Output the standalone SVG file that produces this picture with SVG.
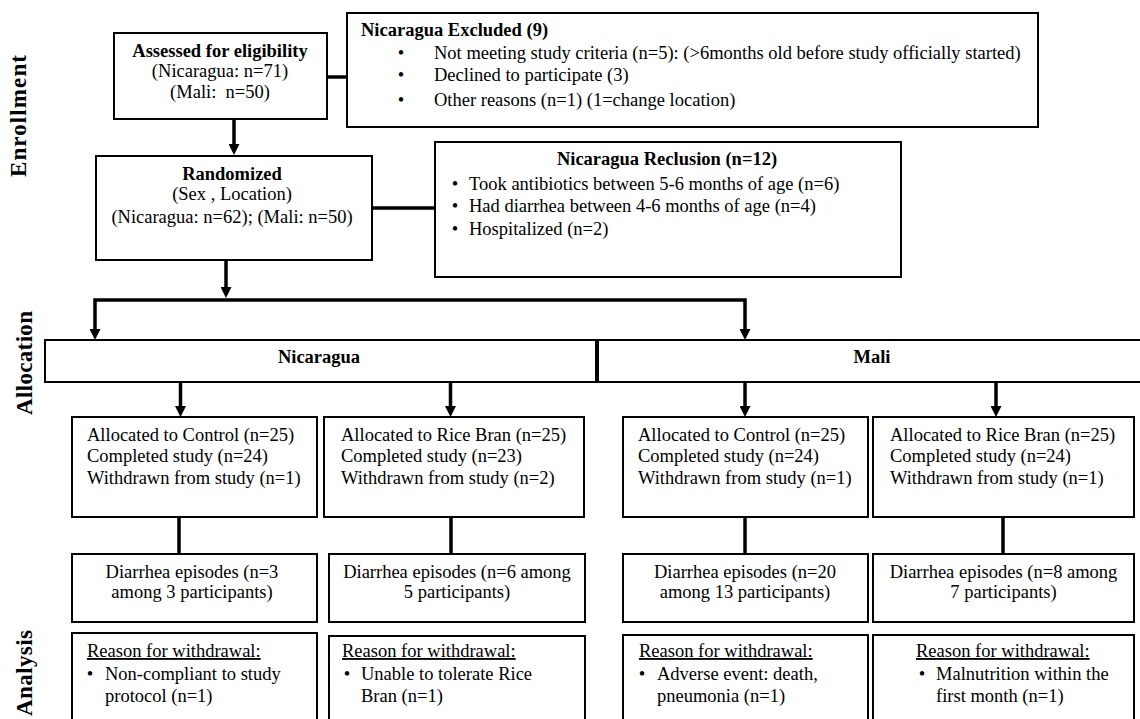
<svg xmlns="http://www.w3.org/2000/svg" width="1140" height="719" viewBox="0 0 1140 719">
<style>
.box{fill:#fff;stroke:#000;stroke-width:2}
.t{font-family:"Liberation Serif","Times New Roman",serif;font-size:18.5px;fill:#000}
.b{font-weight:bold}
.m{text-anchor:middle}
.lab{font-family:"Liberation Serif","Times New Roman",serif;font-size:23px;font-weight:bold;fill:#000;text-anchor:middle}
.c{fill:none;stroke:#000;stroke-width:3.5}
.u{text-decoration:underline;text-decoration-thickness:2px;text-underline-offset:3px}
</style>
<defs>
<marker id="ah" markerUnits="userSpaceOnUse" markerWidth="12" markerHeight="11" refX="1" refY="5.5" orient="auto-start-reverse">
<path d="M0,0 L11,5.5 L0,11 z" fill="#000"/>
</marker>
</defs>
<rect width="1140" height="719" fill="#fff"/>

<g id="labels">
<text class="lab" transform="translate(26,116) rotate(-90)" textLength="122" lengthAdjust="spacing">Enrollment</text>
<text class="lab" transform="translate(31.5,363) rotate(-90)" textLength="104" lengthAdjust="spacing">Allocation</text>
<text class="lab" transform="translate(31.5,673) rotate(-90)" textLength="86" lengthAdjust="spacing">Analysis</text>
</g>

<g id="connectors">
<line class="c" x1="327" y1="77" x2="347" y2="77"/>
<line class="c" x1="234" y1="119" x2="234" y2="145" marker-end="url(#ah)"/>
<line class="c" x1="372" y1="208" x2="435" y2="208"/>
<line class="c" x1="226" y1="260" x2="226" y2="288" marker-end="url(#ah)"/>
<path class="c" d="M95,330 V300 H745 V330" marker-start="url(#ah)" marker-end="url(#ah)"/>
<line class="c" x1="180.5" y1="382" x2="180.5" y2="407" marker-end="url(#ah)"/>
<line class="c" x1="450.5" y1="382" x2="450.5" y2="407" marker-end="url(#ah)"/>
<line class="c" x1="745" y1="382" x2="745" y2="407" marker-end="url(#ah)"/>
<line class="c" x1="996" y1="382" x2="996" y2="407" marker-end="url(#ah)"/>
<line class="c" x1="179" y1="517" x2="179" y2="554"/>
<line class="c" x1="451" y1="517" x2="451" y2="554"/>
<line class="c" x1="745" y1="517" x2="745" y2="554"/>
<line class="c" x1="1003" y1="517" x2="1003" y2="554"/>
</g>

<g id="assessed">
<rect class="box" x="114" y="33" width="213" height="86"/>
<text class="t b m" x="220" y="57">Assessed for eligibility</text>
<text class="t m" x="220" y="77">(Nicaragua: n=71)</text>
<text class="t m" x="220" y="98" xml:space="preserve">(Mali:  n=50)</text>
</g>

<g id="excluded">
<rect class="box" x="347" y="13" width="691" height="114"/>
<text class="t b" x="361" y="36">Nicaragua Excluded (9)</text>
<text class="t m" x="401" y="59">•</text>
<text class="t" x="434" y="59">Not meeting study criteria (n=5): (&gt;6months old before study officially started)</text>
<text class="t m" x="401" y="81">•</text>
<text class="t" x="434" y="81">Declined to participate (3)</text>
<text class="t m" x="401" y="106">•</text>
<text class="t" x="434" y="106">Other reasons (n=1) (1=change location)</text>
</g>

<g id="randomized">
<rect class="box" x="96" y="156" width="276" height="104"/>
<text class="t b m" x="232" y="180">Randomized</text>
<text class="t m" x="232" y="200">(Sex , Location)</text>
<text class="t m" x="232" y="223">(Nicaragua: n=62); (Mali: n=50)</text>
</g>

<g id="reclusion">
<rect class="box" x="435" y="142" width="466" height="135"/>
<text class="t b m" x="667" y="165">Nicaragua Reclusion (n=12)</text>
<text class="t m" x="455" y="190">•</text>
<text class="t" x="469" y="190">Took antibiotics between 5-6 months of age (n=6)</text>
<text class="t m" x="455" y="212">•</text>
<text class="t" x="469" y="212">Had diarrhea between 4-6 months of age (n=4)</text>
<text class="t m" x="455" y="235">•</text>
<text class="t" x="469" y="235">Hospitalized (n=2)</text>
</g>

<g id="nicaragua">
<rect class="box" x="45" y="340" width="551" height="42"/>
<text class="t b m" x="319" y="363">Nicaragua</text>
</g>

<g id="mali">
<rect class="box" x="598" y="340" width="549" height="42"/>
<text class="t b m" x="872" y="363">Mali</text>
</g>

<g id="alloc-nic-control">
<rect class="box" x="72" y="417" width="245" height="100"/>
<text class="t" x="87" y="441">Allocated to Control (n=25)</text>
<text class="t" x="87" y="462">Completed study (n=24)</text>
<text class="t" x="87" y="484">Withdrawn from study (n=1)</text>
</g>

<g id="alloc-nic-rice">
<rect class="box" x="324" y="417" width="260" height="100"/>
<text class="t" x="341" y="441">Allocated to Rice Bran (n=25)</text>
<text class="t" x="341" y="462">Completed study (n=23)</text>
<text class="t" x="341" y="484">Withdrawn from study (n=2)</text>
</g>

<g id="alloc-mali-control">
<rect class="box" x="623" y="417" width="245" height="100"/>
<text class="t" x="638" y="441">Allocated to Control (n=25)</text>
<text class="t" x="638" y="462">Completed study (n=24)</text>
<text class="t" x="638" y="484">Withdrawn from study (n=1)</text>
</g>

<g id="alloc-mali-rice">
<rect class="box" x="873" y="417" width="261" height="100"/>
<text class="t" x="890" y="441">Allocated to Rice Bran (n=25)</text>
<text class="t" x="890" y="462">Completed study (n=24)</text>
<text class="t" x="890" y="484">Withdrawn from study (n=1)</text>
</g>

<g id="diarrhea-nic-control">
<rect class="box" x="72" y="554" width="245" height="68"/>
<text class="t m" x="192" y="578">Diarrhea episodes (n=3</text>
<text class="t m" x="192" y="598">among 3 participants)</text>
</g>

<g id="diarrhea-nic-rice">
<rect class="box" x="329" y="554" width="256" height="68"/>
<text class="t m" x="457" y="578">Diarrhea episodes (n=6 among</text>
<text class="t m" x="457" y="598">5 participants)</text>
</g>

<g id="diarrhea-mali-control">
<rect class="box" x="623" y="554" width="245" height="68"/>
<text class="t m" x="745" y="578">Diarrhea episodes (n=20</text>
<text class="t m" x="745" y="598">among 13 participants)</text>
</g>

<g id="diarrhea-mali-rice">
<rect class="box" x="873" y="554" width="261" height="68"/>
<text class="t m" x="1003.5" y="578">Diarrhea episodes (n=8 among</text>
<text class="t m" x="1003.5" y="598">7 participants)</text>
</g>

<g id="reason-nic-control">
<rect class="box" x="72" y="633" width="245" height="100"/>
<text class="t u" x="87" y="657">Reason for withdrawal:</text>
<text class="t m" x="90" y="680">•</text>
<text class="t" x="105" y="680">Non-compliant to study</text>
<text class="t" x="105" y="702">protocol (n=1)</text>
</g>

<g id="reason-nic-rice">
<rect class="box" x="329" y="636" width="256" height="100"/>
<text class="t u" x="342" y="657">Reason for withdrawal:</text>
<text class="t m" x="347" y="680">•</text>
<text class="t" x="361" y="680">Unable to tolerate Rice</text>
<text class="t" x="361" y="702">Bran (n=1)</text>
</g>

<g id="reason-mali-control">
<rect class="box" x="623" y="635" width="245" height="100"/>
<text class="t u" x="639" y="657">Reason for withdrawal:</text>
<text class="t m" x="642" y="680">•</text>
<text class="t" x="657" y="680">Adverse event: death,</text>
<text class="t" x="657" y="702">pneumonia (n=1)</text>
</g>

<g id="reason-mali-rice">
<rect class="box" x="873" y="635" width="261" height="100"/>
<text class="t u" x="916" y="657">Reason for withdrawal:</text>
<text class="t m" x="922" y="680">•</text>
<text class="t" x="936" y="680">Malnutrition within the</text>
<text class="t" x="936" y="702">first month (n=1)</text>
</g>
</svg>
